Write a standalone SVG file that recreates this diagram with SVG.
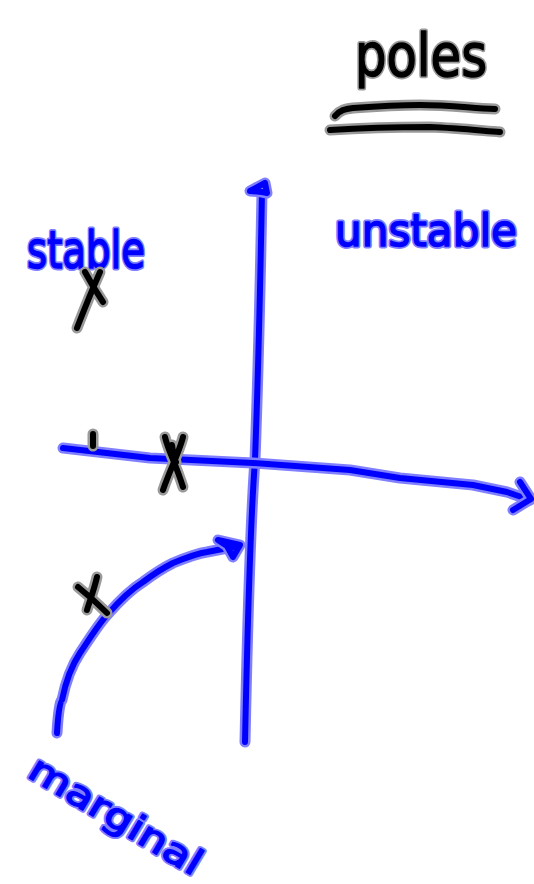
<svg xmlns="http://www.w3.org/2000/svg" xmlns:xlink="http://www.w3.org/1999/xlink" width="534" height="884" viewBox="0 0 534 884">
<style>
.bh{fill:none;stroke:#8080ff;stroke-width:11;stroke-linecap:round;stroke-linejoin:round}
.bi{fill:none;stroke:#0000ff;stroke-width:6;stroke-linecap:round;stroke-linejoin:round}
.kh{fill:none;stroke:#9a9a9a;stroke-width:11;stroke-linecap:round;stroke-linejoin:round}
.ki{fill:none;stroke:#000;stroke-width:6;stroke-linecap:round;stroke-linejoin:round}
.bt{font-family:"DejaVu Sans",sans-serif;fill:#0000ff;stroke:#0000ff;stroke-width:1.5;stroke-linejoin:round}
.btl{font-family:"DejaVu Sans",sans-serif;fill:none;stroke:#8080ff;stroke-width:5;stroke-linejoin:round}
.kt{font-family:"DejaVu Sans",sans-serif;fill:#000;stroke:#000;stroke-width:1.5;stroke-linejoin:round}
.ktl{font-family:"DejaVu Sans",sans-serif;fill:none;stroke:#9a9a9a;stroke-width:5;stroke-linejoin:round}
</style>
<defs>
<path id="vaxis" d="M245,742 C248,600 252,500 255,460 C258,380 260,300 262,192"/>
<path id="vhead" d="M262,192 L250,191 L265,183 L267,193 Z"/>
<path id="haxis" d="M63,448 L150,458 L253,463 L350,470 L400,478 L473,485 L507,492 L530,500"/>
<path id="hhead" d="M520,482 L531,499 L513,510"/>
<path id="arc" d="M57,733 C58,715 60,700 62,700 C66,680 72,665 80,653 C90,638 98,625 107,615 C120,600 130,590 143,582 C155,573 163,568 173,563 C190,556 200,553 207,552 L233,547"/>
<path id="archead" d="M233,547 L240,545 L233,557 L227,546 L218,540 L240,545"/>
<path id="ul1" d="M335,116 C340,110 345,109 353,108 C380,106 400,105 420,105 C450,105 470,108 495,109"/>
<path id="ul2" d="M330,130 C360,128 400,127 430,127 C455,128 475,130 500,132"/>
<path id="tick" d="M93,434 L93,446"/>
<path id="x1" d="M85,272 C92,285 97,293 103,302 M100,272 C92,290 84,310 77,328"/>
<path id="x2" d="M165,437 C168,450 175,462 183,487 M183,437 C180,450 170,470 163,490 M172,445 C173,452 174,458 176,462"/>
<path id="x3" d="M78,587 C88,595 98,604 107,613 M97,577 C94,590 90,600 87,610"/>
</defs>
<g id="connectors">
<use xlink:href="#vaxis" class="bh"/><use xlink:href="#vaxis" class="bi"/>
<use xlink:href="#vhead" class="bh"/><use xlink:href="#vhead" class="bi"/>
<use xlink:href="#haxis" class="bh"/><use xlink:href="#haxis" class="bi"/>
<use xlink:href="#hhead" class="bh"/><use xlink:href="#hhead" class="bi"/>
<use xlink:href="#arc" class="bh"/><use xlink:href="#arc" class="bi"/>
<use xlink:href="#archead" class="bh"/><use xlink:href="#archead" class="bi"/>
</g>
<g id="title">
<text class="ktl" x="355" y="76" font-size="58" textLength="132" lengthAdjust="spacingAndGlyphs">poles</text>
<text class="kt" x="355" y="76" font-size="58" textLength="132" lengthAdjust="spacingAndGlyphs">poles</text>
<use xlink:href="#ul1" class="kh"/><use xlink:href="#ul1" class="ki"/>
<use xlink:href="#ul2" class="kh"/><use xlink:href="#ul2" class="ki"/>
</g>
<g id="stable">
<text class="btl" x="27" y="268" font-size="52" textLength="118" lengthAdjust="spacingAndGlyphs">stable</text>
<text class="bt" x="27" y="268" font-size="52" textLength="118" lengthAdjust="spacingAndGlyphs">stable</text>
</g>
<g id="unstable">
<text class="btl" x="335" y="246" font-size="44" textLength="182" lengthAdjust="spacingAndGlyphs">unstable</text>
<text class="bt" x="335" y="246" font-size="44" textLength="182" lengthAdjust="spacingAndGlyphs">unstable</text>
</g>
<g id="marginal" transform="translate(26,776) rotate(31)">
<text class="btl" x="0" y="0" font-size="36" textLength="195" lengthAdjust="spacingAndGlyphs">marginal</text>
<text class="bt" x="0" y="0" font-size="36" textLength="195" lengthAdjust="spacingAndGlyphs">marginal</text>
</g>
<g id="poles-marks">
<use xlink:href="#tick" class="kh"/><use xlink:href="#tick" class="ki"/>
<use xlink:href="#x1" class="kh"/><use xlink:href="#x1" class="ki"/>
<use xlink:href="#x2" class="kh"/><use xlink:href="#x2" class="ki"/>
<use xlink:href="#x3" class="kh"/><use xlink:href="#x3" class="ki"/>
</g>
</svg>
